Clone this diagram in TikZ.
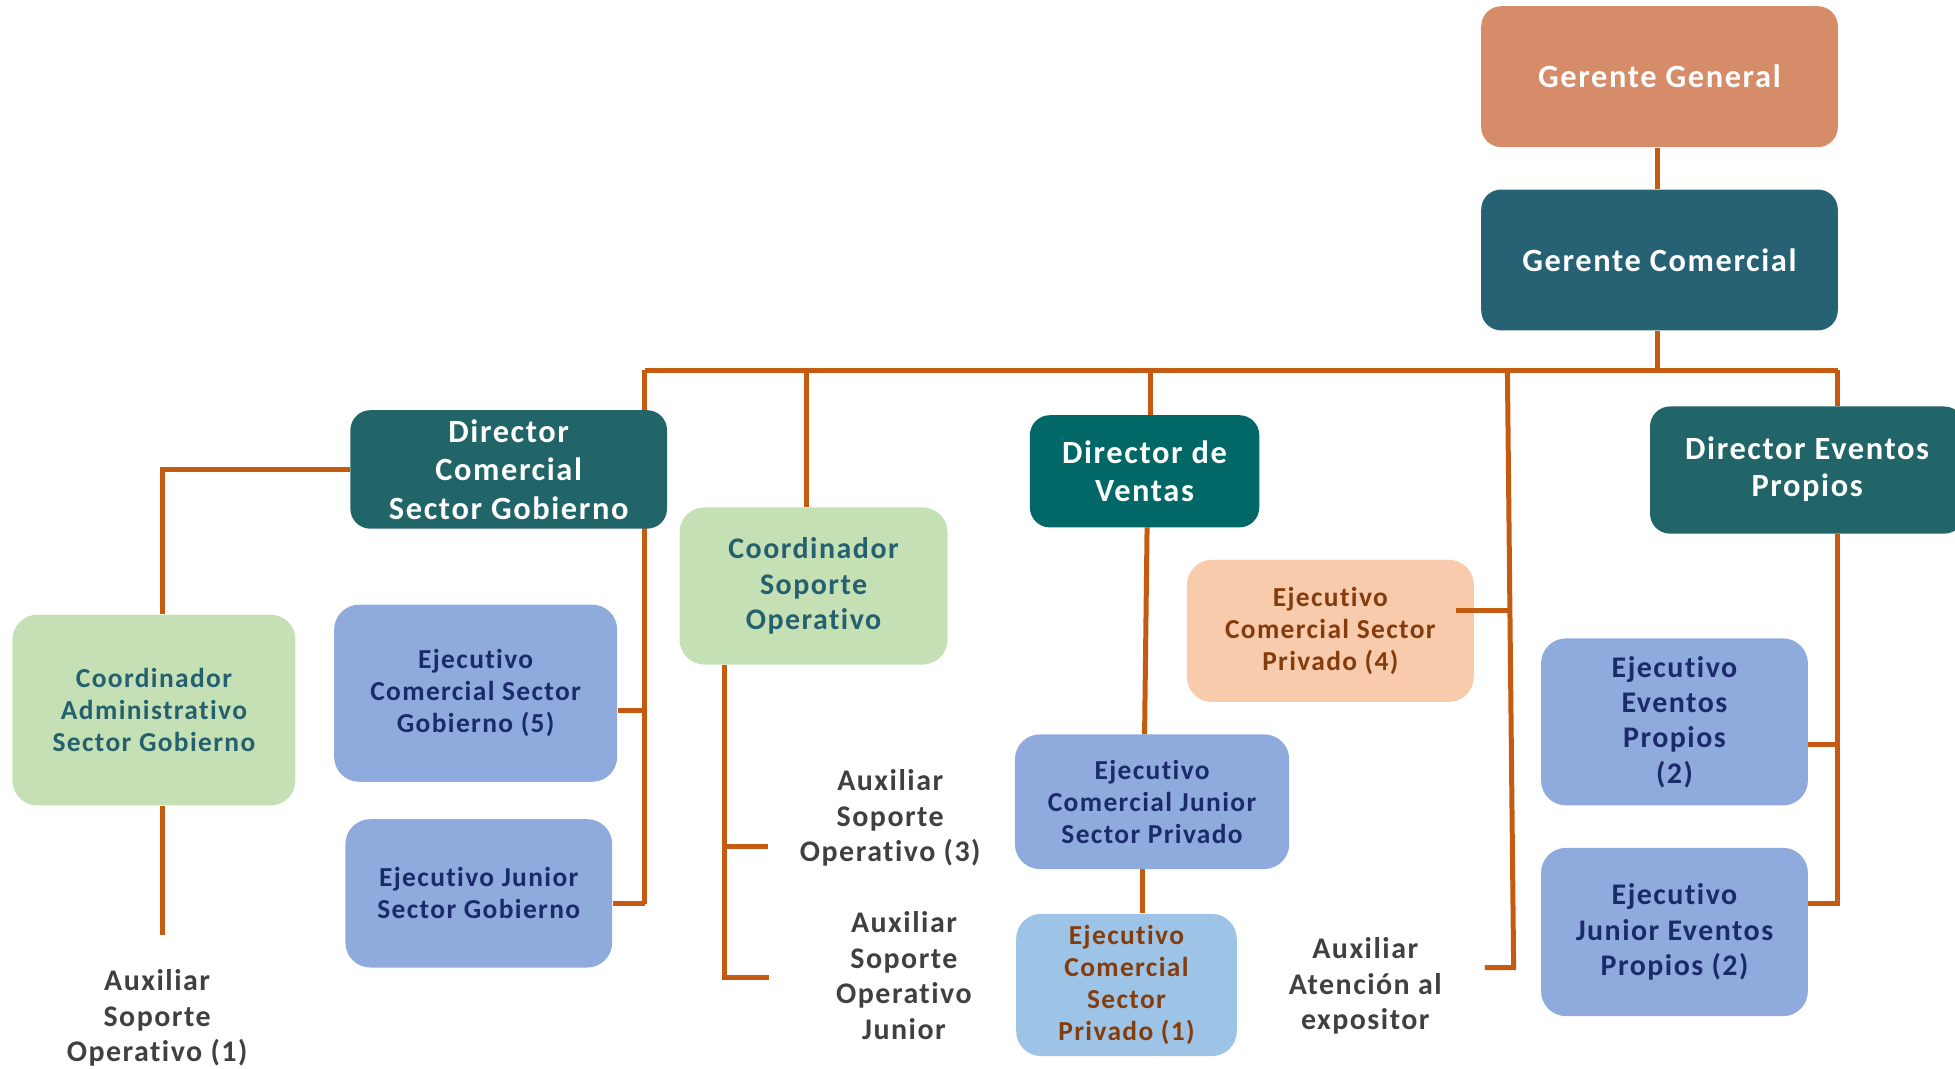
\documentclass[tikz,border=0pt]{standalone}
\usepackage{fontspec}
\setmainfont{Carlito}[LetterSpace=5, Ligatures={NoCommon,NoRequired,NoContextual}]
\usetikzlibrary{backgrounds}
\definecolor{cGG}{HTML}{D68B69}
\definecolor{cGC}{HTML}{266174}
\definecolor{cDir}{HTML}{226569}
\definecolor{cDV}{HTML}{026867}
\definecolor{cGreen}{HTML}{C5E0B4}
\definecolor{cGreenTxt}{HTML}{24606E}
\definecolor{cBlue}{HTML}{8FAADC}
\definecolor{cNavy}{HTML}{1B2A6B}
\definecolor{cPeach}{HTML}{F8CBAD}
\definecolor{cBrown}{HTML}{843C0C}
\definecolor{cLBlue}{HTML}{9DC3E6}
\definecolor{cGray}{HTML}{404040}
\definecolor{cLine}{HTML}{C55A11}
\tikzset{
  box/.style={rounded corners=8pt, inner sep=0pt, align=center},
  bigf/.style={font=\bfseries\fontsize{13}{15.5}\selectfont},
  medf/.style={font=\bfseries\fontsize{12}{14.2}\selectfont},
  smallf/.style={font=\bfseries\fontsize{11}{12.8}\selectfont},
  dirbox/.style={box, bigf, text=white},
  bluebox/.style={box, fill=cBlue, text=cNavy, rounded corners=10pt},
  greenbox/.style={box, fill=cGreen, text=cGreenTxt, rounded corners=10pt},
  plain/.style={align=center, inner sep=0pt, medf, text=cGray},
  conn/.style={draw=cLine, line width=2pt}
}
\begin{document}
\begin{tikzpicture}[x=0.5pt,y=-0.5pt]
\useasboundingbox (0,0) rectangle (1568,857);
\clip (0,0) rectangle (1568,857);
% top
\node[dirbox, fill=cGG, minimum width=143pt, minimum height=56.5pt] (GG) at (1331,61.5) {\raisebox{-1pt}{Gerente General}};
\node[dirbox, fill=cGC, minimum width=143pt, minimum height=56.5pt] (GC) at (1331,208.5) {Gerente Comercial};
% directors
\node[dirbox, fill=cDir, minimum width=127pt, minimum height=47.5pt] (DCSG) at (408,376.5) {Director\\Comercial\\Sector Gobierno};
\node[greenbox, medf, minimum width=107.5pt, minimum height=63pt] (CSO) at (652.5,470) {Coordinador\\Soporte\\Operativo};
\node[dirbox, fill=cDV, minimum width=92pt, minimum height=45pt] (DV) at (918,378) {Director de\\Ventas};
\node[dirbox, fill=cDir, minimum width=126pt, minimum height=51pt, anchor=west] (DEP) at (1323,377) {\raisebox{-1.2pt}{\begin{tabular}{@{}c@{}}Director Eventos\\[-0.5pt]Propios\end{tabular}}};
% level 3
\node[greenbox, smallf, minimum width=113.5pt, minimum height=76.5pt] (CASG) at (123.5,569.5) {Coordinador\\Administrativo\\Sector Gobierno};
\node[bluebox, smallf, minimum width=113.5pt, minimum height=71pt] (ECSG) at (381.5,556) {Ejecutivo\\Comercial Sector\\Gobierno (5)};
\node[bluebox, smallf, minimum width=107pt, minimum height=59.5pt] (EJSG) at (384,716.5) {Ejecutivo Junior\\Sector Gobierno};
\node[box, fill=cPeach, text=cBrown, smallf, rounded corners=10pt, minimum width=115pt, minimum height=57pt] (ECSP4) at (1067,506) {Ejecutivo\\Comercial Sector\\Privado (4)};
\node[bluebox, smallf, minimum width=110pt, minimum height=54pt] (ECJSP) at (924,643) {Ejecutivo\\Comercial Junior\\Sector Privado};
\node[box, fill=cLBlue, text=cBrown, smallf, rounded corners=10pt, minimum width=88.5pt, minimum height=57pt] (ECSP1) at (903.5,790) {Ejecutivo\\Comercial\\Sector\\Privado (1)};
\node[bluebox, medf, minimum width=107pt, minimum height=67pt] (EEP) at (1343,579) {Ejecutivo\\Eventos\\Propios\\(2)};
\node[bluebox, medf, minimum width=107pt, minimum height=67.5pt] (EJEP) at (1343,747.5) {Ejecutivo\\Junior Eventos\\Propios (2)};
% plain texts
\node[plain] (ASO1) at (126,816.5) {Auxiliar\\Soporte\\Operativo (1)};
\node[plain] (ASO3) at (714,656) {Auxiliar\\Soporte\\Operativo (3)};
\node[plain] (ASOJ) at (725,782.5) {Auxiliar\\Soporte\\Operativo\\Junior};
\node[plain] (AAE) at (1095,791) {Auxiliar\\Atención al\\expositor};
% coordinates
\coordinate (b0) at (1329,297);
\coordinate (b1) at (517,297);
\coordinate (b2) at (647,297);
\coordinate (b3) at (923,297);
\coordinate (b4) at (1209,297);
\coordinate (b5) at (1474,297);
\coordinate (sgA) at (517,570);
\coordinate (sgB) at (517,725);
\coordinate (ca1) at (130,376.5);
\coordinate (ca2) at (130,750);
\coordinate (cs1) at (581,533);
\coordinate (cs2) at (581,679);
\coordinate (cs3) at (581,784);
\coordinate (cs2e) at (616,679);
\coordinate (cs3e) at (617,784);
\coordinate (dv0) at (920,423);
\coordinate (dv2) at (918,589);
\coordinate (dv1) at (916,697);
\coordinate (pv1) at (1168,490);
\coordinate (pv2) at (1211,490);
\coordinate (pv3) at (1214,776);
\coordinate (pv4) at (1191,776);
\coordinate (epA) at (1474,597);
\coordinate (epB) at (1474,725);
\begin{pgfonlayer}{background}
\draw[conn] (GG.south -| b0) -- (GC.north -| b0);
\draw[conn] (GC.south -| b0) -- (b0);
\draw[conn] (b1) -- (b5);
\draw[conn] (b1) -- (sgB);
\draw[conn] (sgA) -- (sgA -| ECSG.east);
\draw[conn] (sgB) -- (sgB -| EJSG.east);
\draw[conn] (DCSG.west |- ca1) -- (ca1) -- (ca1 |- CASG.north);
\draw[conn] (ca1 |- CASG.south) -- (ca2);
\draw[conn] (b2) -- (b2 |- CSO.north);
\draw[conn] (cs1) -- (cs3) -- (cs3e);
\draw[conn] (cs2) -- (cs2e);
\draw[conn] (b3) -- (b3 |- DV.north);
\draw[conn] (dv0) -- (dv2);
\draw[conn] (dv1) -- (dv1 |- ECSP1.north);
\draw[conn] (b4) -- (pv3) -- (pv4);
\draw[conn] (b5) -- (b5 |- DEP.north);
\draw[conn] (b5 |- DEP.south) -- (epB) -- (epB -| EJEP.east);
\draw[conn] (epA) -- (epA -| EEP.east);
\end{pgfonlayer}
\draw[conn] (pv1) -- (pv2);
\end{tikzpicture}
\end{document}
